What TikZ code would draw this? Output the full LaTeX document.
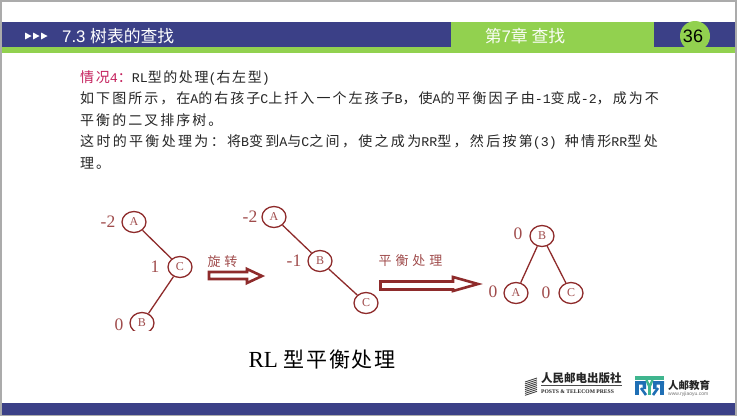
\documentclass[tikz,border=0pt]{standalone}
\usepackage{fontspec}
\usetikzlibrary{shapes.geometric}
\setmainfont{Liberation Serif}
\setsansfont{Liberation Sans}
\newfontfamily\cjk{Noto Sans CJK SC}
\newfontfamily\cjkbody[LetterSpace=14.5]{Noto Sans CJK SC}
\newfontfamily\cjkwide[LetterSpace=16.6]{Noto Sans CJK SC}
\newfontfamily\cjktight[LetterSpace=11.5]{Noto Sans CJK SC}
\newfontfamily\cjklabel[LetterSpace=30]{Noto Sans CJK SC}
\newfontfamily\cjkcap[LetterSpace=8]{Noto Sans CJK SC}
\newfontfamily\latbody{Liberation Mono}
\newcommand{\lat}[1]{{\latbody\fontsize{13.3}{14}\selectfont #1}}
\definecolor{navy}{HTML}{3B4087}
\definecolor{lgreen}{HTML}{92D14F}
\definecolor{dred}{HTML}{8E2B2B}
\definecolor{tred}{HTML}{A04C4C}
\definecolor{framegray}{HTML}{ABABAB}
\definecolor{bodyred}{HTML}{C4205C}
\definecolor{logoblue}{HTML}{1F6FB5}
\definecolor{logogreen}{HTML}{3FB58E}
\tikzset{
  bodyline/.style={anchor=west,inner sep=0pt,text=black!85,font=\cjkbody\fontsize{14}{15}\selectfont},
  treenode/.style={ellipse,draw=dred,line width=1.3pt,minimum width=24pt,minimum height=21pt,inner sep=0pt,text=tred,font=\rmfamily\fontsize{12}{13}\selectfont},
  bal/.style={inner sep=0pt,text=tred,font=\rmfamily\fontsize{17.5}{18}\selectfont},
  edge/.style={draw=dred,line width=1.3pt},
  bigarrow/.style={draw=dred,fill=white,line width=2.6pt,miter limit=6},
  arrowtext/.style={inner sep=0pt,text=tred,font=\cjklabel\fontsize{13}{14}\selectfont},
}
\begin{document}
\begin{tikzpicture}[x=1pt,y=-1pt]
\useasboundingbox (0,0) rectangle (737,416);
\fill[white] (0,0) rectangle (737,416);
% frame
\fill[framegray] (0,0) rectangle (737,1.5);
\fill[framegray] (0,0) rectangle (2,416);
\fill[framegray] (735,0) rectangle (737,416);
\fill[framegray] (0,414.5) rectangle (737,416);
% header
\fill[navy] (2,22) rectangle (735,47);
\fill[lgreen] (2,47) rectangle (735,53);
\fill[lgreen] (451,22) rectangle (654,47);
\fill[lgreen] (695,36) circle (15);
\fill[navy] (2,403) rectangle (735,414.5);
\foreach \x in {25,33,41} \fill[white] (\x,32.5) -- (\x+6.5,36) -- (\x,39.5) -- cycle;
\node[anchor=west,inner sep=0pt,text=white] (title) at (62,36.5) {\sffamily\fontsize{16.8}{18}\selectfont 7.3 {\cjk 树表的查找}};
\node[inner sep=0pt,text=white!95!lgreen] (chapter) at (525,36) {\cjk\fontsize{16.8}{18}\selectfont 第{\sffamily 7}章 查找};
\node[inner sep=0pt,text=black] (page) at (693,36) {\sffamily\fontsize{18}{20}\selectfont 36};
% body
\node[bodyline] (l1) at (80,78) {\cjktight\fontsize{14}{15}\selectfont\textcolor{bodyred}{情况\lat{4}：}\lat{RL}型的处理\lat{(}右左型\lat{)}};
\node[bodyline] (l2) at (80,98) {如下图所示，在\lat{A}的右孩子\lat{C}上扦入一个左孩子\lat{B}，使\lat{A}的平衡因子由\lat{-1}变成\lat{-2}，成为不};
\node[bodyline] (l3) at (80,120) {平衡的二叉排序树。};
\node[bodyline] (l4) at (80,142) {\cjkwide\fontsize{14}{15}\selectfont 这时的平衡处理为：将\lat{B}变到\lat{A}与\lat{C}之间，使之成为\lat{RR}型，然后按第\lat{(3) }种情形\lat{RR}型处};
\node[bodyline] (l5) at (80,163) {理。};
% tree 1
\node[treenode] (a1) at (134,222) {A};
\node[treenode] (c1) at (180,267) {C};
\begin{scope}
\clip (100,300) rectangle (170,330);
\node[treenode] (b1) at (142,323) {B};
\end{scope}
\draw[edge] (a1) -- (c1);
\draw[edge] (c1) -- (b1);
\node[bal] (la1) at (108,222) {-2};
\node[bal] (lc1) at (155,267) {1};
\node[bal] (lb1) at (119,325) {0};
% tree 2
\node[treenode] (a2) at (274,217) {A};
\node[treenode] (b2) at (320,261) {B};
\node[treenode] (c2) at (366,303) {C};
\draw[edge] (a2) -- (b2);
\draw[edge] (b2) -- (c2);
\node[bal] (la2) at (250,217) {-2};
\node[bal] (lb2) at (294,261) {-1};
% tree 3
\node[treenode] (b3) at (542,236) {B};
\node[treenode] (a3) at (516,293) {A};
\node[treenode] (c3) at (571,293) {C};
\draw[edge] (b3) -- (a3);
\draw[edge] (b3) -- (c3);
\node[bal] (lb3) at (518,234) {0};
\node[bal] (la3) at (493,292) {0};
\node[bal] (lc3) at (546,293) {0};
% arrows
\draw[bigarrow] (209,272) -- (247,272) -- (247,269) -- (262,276) -- (247,283) -- (247,279) -- (209,279) -- cycle;
\draw[bigarrow] (380.5,281.5) -- (453,281.5) -- (453,277) -- (478,284) -- (453,291) -- (453,289.5) -- (380.5,289.5) -- cycle;
\node[arrowtext] (rot) at (222.5,262) {旋转};
\node[arrowtext] (bal) at (410.5,261) {平衡处理};
% caption
\node[inner sep=0pt,text=black] (cap) at (322,360) {\rmfamily\fontsize{23}{25}\selectfont RL {\cjkcap\fontsize{21}{23}\selectfont 型平衡处理}};
% logos
\foreach \i in {0,...,7} \draw[black!75,line width=0.9pt] (525,{382+\i*1.9}) -- (537,{378+\i*1.9});
\node[inner sep=0pt,anchor=west,text=black!85] (press) at (541,378) {\cjk\bfseries\fontsize{11.5}{12}\selectfont 人民邮电出版社};
\draw[black!70,line width=0.4pt] (541,385.5) -- (622,385.5);
\node[inner sep=0pt,anchor=west,text=black!85] (presse) at (541,392) {\rmfamily\bfseries\fontsize{5.6}{6}\selectfont POSTS \& TELECOM PRESS};
% RYR mark
\fill[logogreen] (635,376) rectangle (664,379.5);
\fill[logoblue] (635,381) rectangle (639,395);
\fill[logoblue] (635,381) rectangle (646,384.5) (642.5,381) rectangle (646,389);
\draw[logoblue,line width=2.6pt] (641,388) -- (646,395);
\draw[logogreen,line width=2.4pt] (646.5,380) -- (649.5,387) -- (652.5,380);
\fill[logogreen] (648.2,386) rectangle (650.8,395);
\fill[logoblue] (664,381) rectangle (660,395);
\fill[logoblue] (653,381) rectangle (664,384.5) (653,381) rectangle (656.5,389);
\draw[logoblue,line width=2.6pt] (658,388) -- (653,395);
\node[inner sep=0pt,anchor=west,text=black!85] (ry) at (668,385.5) {\cjk\bfseries\fontsize{10.5}{11}\selectfont 人邮教育};
\node[inner sep=0pt,anchor=west,text=black!55] (url) at (668,394.5) {\sffamily\fontsize{5}{6}\selectfont www.ryjiaoyu.com};
\end{tikzpicture}
\end{document}
